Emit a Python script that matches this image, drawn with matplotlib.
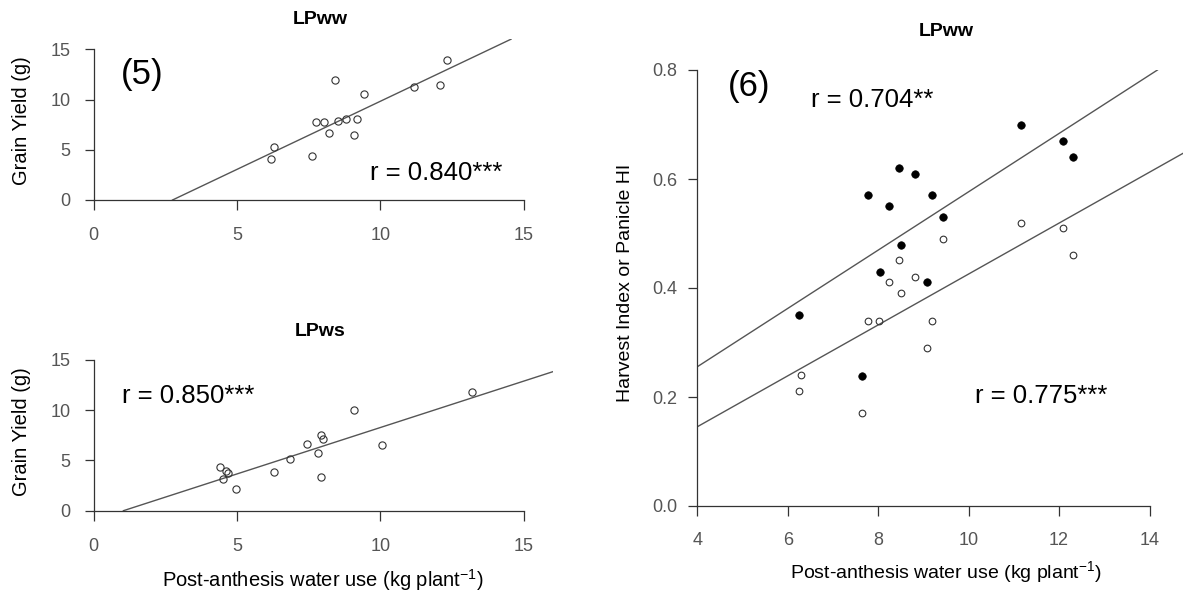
import matplotlib
matplotlib.use("Agg")
import matplotlib.pyplot as plt

plt.rcParams['font.family'] = ['Liberation Sans', 'DejaVu Sans']
plt.rcParams['mathtext.fontset'] = 'custom'
plt.rcParams['mathtext.rm'] = 'Liberation Sans'
plt.rcParams['mathtext.it'] = 'Liberation Sans:italic'

# ---------------- data ----------------
# Panel (5) top: LPww grain yield vs post-anthesis water use
ww_water = [6.17, 6.28, 7.60, 7.74, 8.02, 8.21, 8.43, 8.51, 8.81, 9.08, 9.19, 9.41, 11.16, 12.06, 12.31]
ww_yield = [4.10, 5.27, 4.33, 7.77, 7.77, 6.67, 11.93, 7.90, 8.10, 6.43, 8.10, 10.57, 11.20, 11.43, 13.93]
ww_fit = [1.356, -3.73]          # slope, intercept

# Panel (5) bottom: LPws
ws_water = [4.41, 4.50, 4.62, 4.68, 4.96, 6.28, 6.85, 7.44, 7.82, 7.91, 7.94, 8.01, 9.07, 10.05, 13.20]
ws_yield = [4.33, 3.17, 4.00, 3.75, 2.20, 3.87, 5.17, 6.67, 5.77, 3.33, 7.57, 7.10, 10.00, 6.53, 11.77]
ws_fit = [0.924, -0.96]

# Panel (6): LPww Panicle HI (filled) and Harvest Index (open)
phi_water = [11.15, 12.08, 12.31, 8.47, 8.81, 7.77, 9.18, 8.23, 9.44, 8.51, 8.03, 9.07, 6.25, 7.63]
phi_value = [0.700, 0.670, 0.641, 0.620, 0.610, 0.570, 0.570, 0.550, 0.530, 0.479, 0.430, 0.411, 0.351, 0.239]
phi_fit = [0.0535, 0.0416]

hi_water = [11.15, 12.08, 12.31, 9.44, 8.47, 8.23, 8.81, 8.51, 7.77, 8.01, 9.18, 9.07, 6.29, 6.25, 7.63]
hi_value = [0.520, 0.510, 0.461, 0.489, 0.451, 0.411, 0.420, 0.390, 0.339, 0.339, 0.339, 0.290, 0.240, 0.211, 0.171]
hi_fit = [0.0467, -0.0413]

ticks5 = [0, 5, 10, 15]
xticks6 = [4, 6, 8, 10, 12, 14]
yticks6 = [0.0, 0.2, 0.4, 0.6, 0.8]
yticklabels6 = ['0.0', '0.2', '0.4', '0.6', '0.8']

# ---------------- layout ----------------
W, H = 1183, 595
fig = plt.figure(figsize=(W / 100, H / 100), dpi=100)

def box(l, t, r, b):
    return [l / W, 1 - b / H, (r - l) / W, (b - t) / H]

def fx(x):
    return x / W

def fy(y):
    return 1 - y / H

AX = '#333333'
TK = '#555555'
LN = '#555555'

def style(ax, xb, yb, xpad, ypad):
    for s in ['top', 'right']:
        ax.spines[s].set_visible(False)
    for s in ['left', 'bottom']:
        ax.spines[s].set_color(AX)
        ax.spines[s].set_linewidth(0.9)
    ax.spines['bottom'].set_bounds(*xb)
    ax.spines['left'].set_bounds(*yb)
    ax.tick_params(axis='x', direction='out', length=7.5, width=0.9, color=AX,
                   labelcolor=TK, labelsize=13, pad=xpad)
    ax.tick_params(axis='y', direction='out', length=6.5, width=0.9, color=AX,
                   labelcolor=TK, labelsize=13, pad=ypad)
    ax.patch.set_alpha(0)

# Panel 5 top
ax1 = fig.add_axes(box(93.6, 39.2, 552.6, 200))
ax1.set_xlim(0, 16)
ax1.set_ylim(0, 16)
ax1.set_xticks(ticks5)
ax1.set_yticks(ticks5)
style(ax1, (0, 15), (0, 15), 12, 10)
ax1.axline((0, ww_fit[1]), slope=ww_fit[0], color=LN, lw=1.0)
ax1.plot(ww_water, ww_yield, 'o', ms=5.2, mfc='none', mec='#333333', mew=0.8, clip_on=False)

# Panel 5 bottom
ax2 = fig.add_axes(box(93.6, 349.9, 552.6, 510.7))
ax2.set_xlim(0, 16)
ax2.set_ylim(0, 16)
ax2.set_xticks(ticks5)
ax2.set_yticks(ticks5)
style(ax2, (0, 15), (0, 15), 12, 10)
ax2.axline((0, ws_fit[1]), slope=ws_fit[0], color=LN, lw=1.0)
ax2.plot(ws_water, ws_yield, 'o', ms=5.2, mfc='none', mec='#333333', mew=0.8, clip_on=False)

# Panel 6
ax3 = fig.add_axes(box(697.4, 70, 1183, 506))
ax3.set_xlim(4, 4 + (1183 - 697.4) / 45.21)
ax3.set_ylim(0, 0.8)
ax3.set_xticks(xticks6)
ax3.set_yticks(yticks6)
ax3.set_yticklabels(yticklabels6)
style(ax3, (4, 14), (0, 0.8), 11, 8)
ax3.axline((0, phi_fit[1]), slope=phi_fit[0], color=LN, lw=1.0)
ax3.axline((0, hi_fit[1]), slope=hi_fit[0], color=LN, lw=1.0)
ax3.plot(hi_water, hi_value, 'o', ms=4.8, mfc='none', mec='#333333', mew=0.8)
ax3.plot(phi_water, phi_value, 'o', ms=5.4, mfc='black', mec='black', mew=0.5)

# ---------------- texts ----------------
xlab = 'Post-anthesis water use (kg plant$^{-1}$)'
fig.text(fx(320.5), fy(20), 'LPww', ha='center', va='center', fontsize=14, fontweight='bold')
fig.text(fx(320.5), fy(331.7), 'LPws', ha='center', va='center', fontsize=14, fontweight='bold')
fig.text(fx(945.8), fy(31.7), 'LPww', ha='center', va='center', fontsize=14, fontweight='bold')

fig.text(fx(21.4), fy(121), 'Grain Yield (g)', rotation=90, ha='center', va='center', fontsize=14.5)
fig.text(fx(21.4), fy(432), 'Grain Yield (g)', rotation=90, ha='center', va='center', fontsize=14.5)
fig.text(fx(625.5), fy(283), 'Harvest Index or Panicle HI', rotation=90, ha='center', va='center', fontsize=14)

fig.text(fx(323), fy(580), xlab, ha='center', va='center', fontsize=14.5)
fig.text(fx(945.8), fy(571.7), xlab, ha='center', va='center', fontsize=14)

fig.text(fx(142), fy(84), '(5)', ha='center', va='baseline', fontsize=25)
fig.text(fx(748.7), fy(96), '(6)', ha='center', va='baseline', fontsize=25)

fig.text(fx(436.6), fy(180), 'r = 0.840***', ha='center', va='baseline', fontsize=18.5)
fig.text(fx(188.4), fy(403.3), 'r = 0.850***', ha='center', va='baseline', fontsize=18.5)
fig.text(fx(872), fy(106.7), 'r = 0.704**', ha='center', va='baseline', fontsize=18.5)
fig.text(fx(1041.5), fy(402.7), 'r = 0.775***', ha='center', va='baseline', fontsize=18.5)

fig.savefig('out.png', dpi=100, facecolor='white')
